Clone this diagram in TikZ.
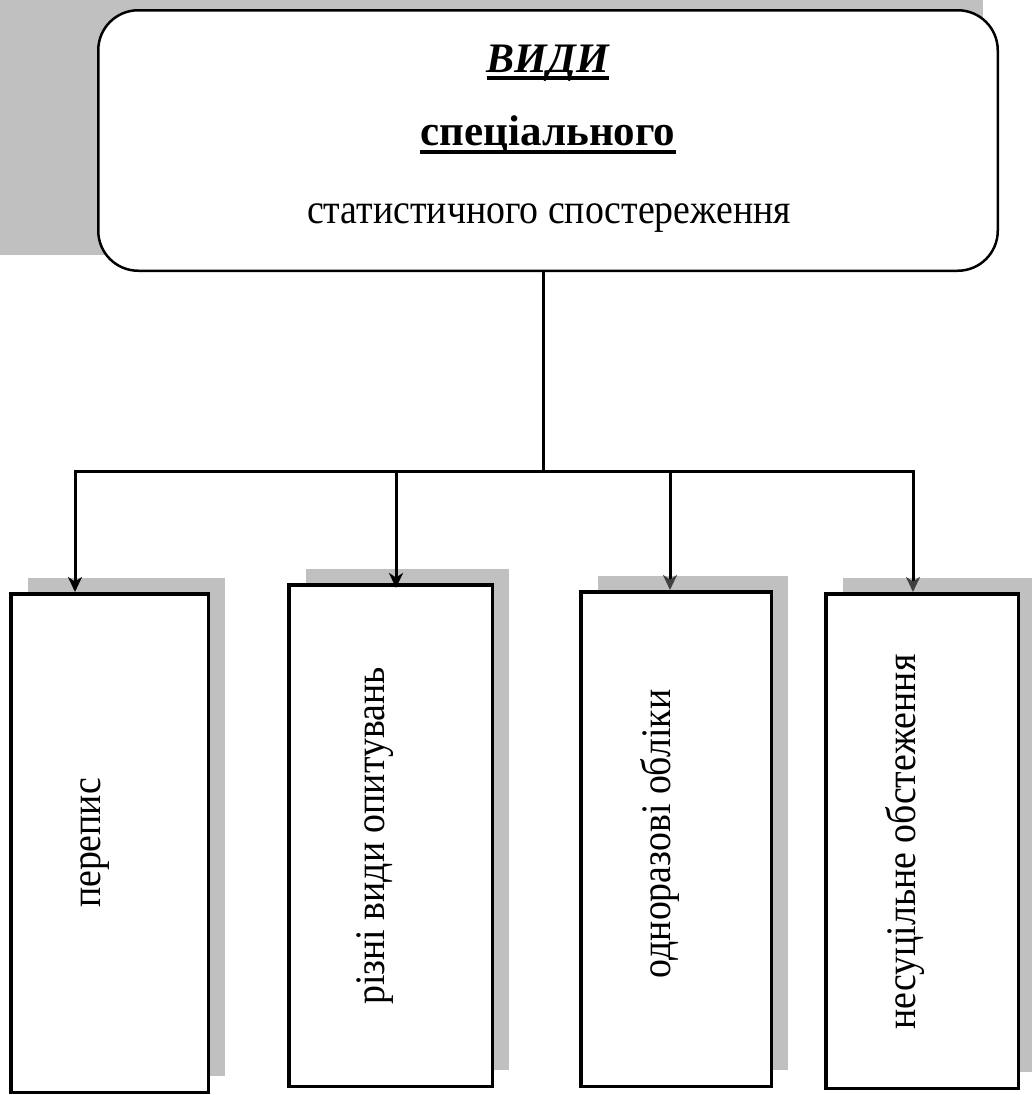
\documentclass[tikz,border=0pt]{standalone}
\usepackage{fontspec}
\setmainfont{Liberation Serif}
\newfontfamily\condfont{Liberation Serif}[FakeStretch=0.9]
\usetikzlibrary{arrows.meta,shadows}
\definecolor{shadowgray}{RGB}{192,192,192}
\definecolor{tipgray}{RGB}{64,64,64}
\tikzset{
  topbox/.style={draw, line width=2.5pt, rounded corners=40pt, fill=white, inner sep=0pt},
  leafbox/.style={draw, line width=3.5pt, fill=white, inner sep=0pt,
     general shadow={fill=shadowgray, shadow xshift=17pt, shadow yshift=16pt}},
  conn/.style={line width=3pt, line join=miter},
  arr/.style={conn, -{Stealth[length=15pt,width=14pt,inset=4.5pt]}},
  garr/.style={conn, -{Stealth[length=15pt,width=14pt,inset=4.5pt,color=tipgray]}},
  leaftext/.style={rotate=90, anchor=base, inner sep=0pt, font=\condfont\fontsize{42}{50}\selectfont},
  ul/.style={line width=4.5pt}
}
\begin{document}
\begin{tikzpicture}[x=1pt,y=-1pt]
\useasboundingbox (0,0) rectangle (1031,1095);
\fill[shadowgray] (0,0) rectangle (983,255);
\node[topbox, minimum width=899.5pt, minimum height=260.5pt] (top) at (548,140.5) {};
\node[anchor=base, inner sep=0pt, font=\bfseries\itshape\fontsize{42}{50}\selectfont] (vidy) at (548,72) {ВИДИ};
\draw[ul] ([yshift=-6pt]vidy.base west) -- ([yshift=-6pt]vidy.base east);
\node[anchor=base, inner sep=0pt, font=\bfseries\fontsize{43}{50}\selectfont] (spec) at (548,145) {спеціального};
\draw[ul] ([yshift=-7pt]spec.base west) -- ([yshift=-7pt]spec.base east);
\node[anchor=base, inner sep=0pt, font=\condfont\fontsize{42}{50}\selectfont] (stat) at (549,223) {статистичного спостереження};

\node[leafbox, minimum width=197.5pt, minimum height=498.5pt] (b1) at (109.5,843) {};
\node[leafbox, minimum width=203.5pt, minimum height=501.5pt] (b2) at (390.5,835.5) {};
\node[leafbox, minimum width=190.5pt, minimum height=494.5pt] (b3) at (676,839) {};
\node[leafbox, minimum width=192.5pt, minimum height=494.5pt] (b4) at (922,841) {};

\node[leaftext] (t1) at (100,843) {перепис};
\node[leaftext] (t2) at (384,836) {різні види опитувань};
\node[leaftext] (t3) at (670,834) {одноразові обліки};
\node[leaftext] (t4) at (915,842) {несуцільне обстеження};

\coordinate (j) at (543,471);
\coordinate (a1) at (75,471);
\coordinate (a2) at (396,471);
\coordinate (a3) at (670,471);
\coordinate (a4) at (913,471);
\draw[conn] (j |- top.south) -- (j);
\draw[arr] (j) -| (a1 |- b1.north);
\draw[garr] (j) -| (a4 |- b4.north);
\draw[arr] (a2) -- ([yshift=-5pt]a2 |- b2.north);
\draw[garr] (a3) -- (a3 |- b3.north);
\end{tikzpicture}
\end{document}
